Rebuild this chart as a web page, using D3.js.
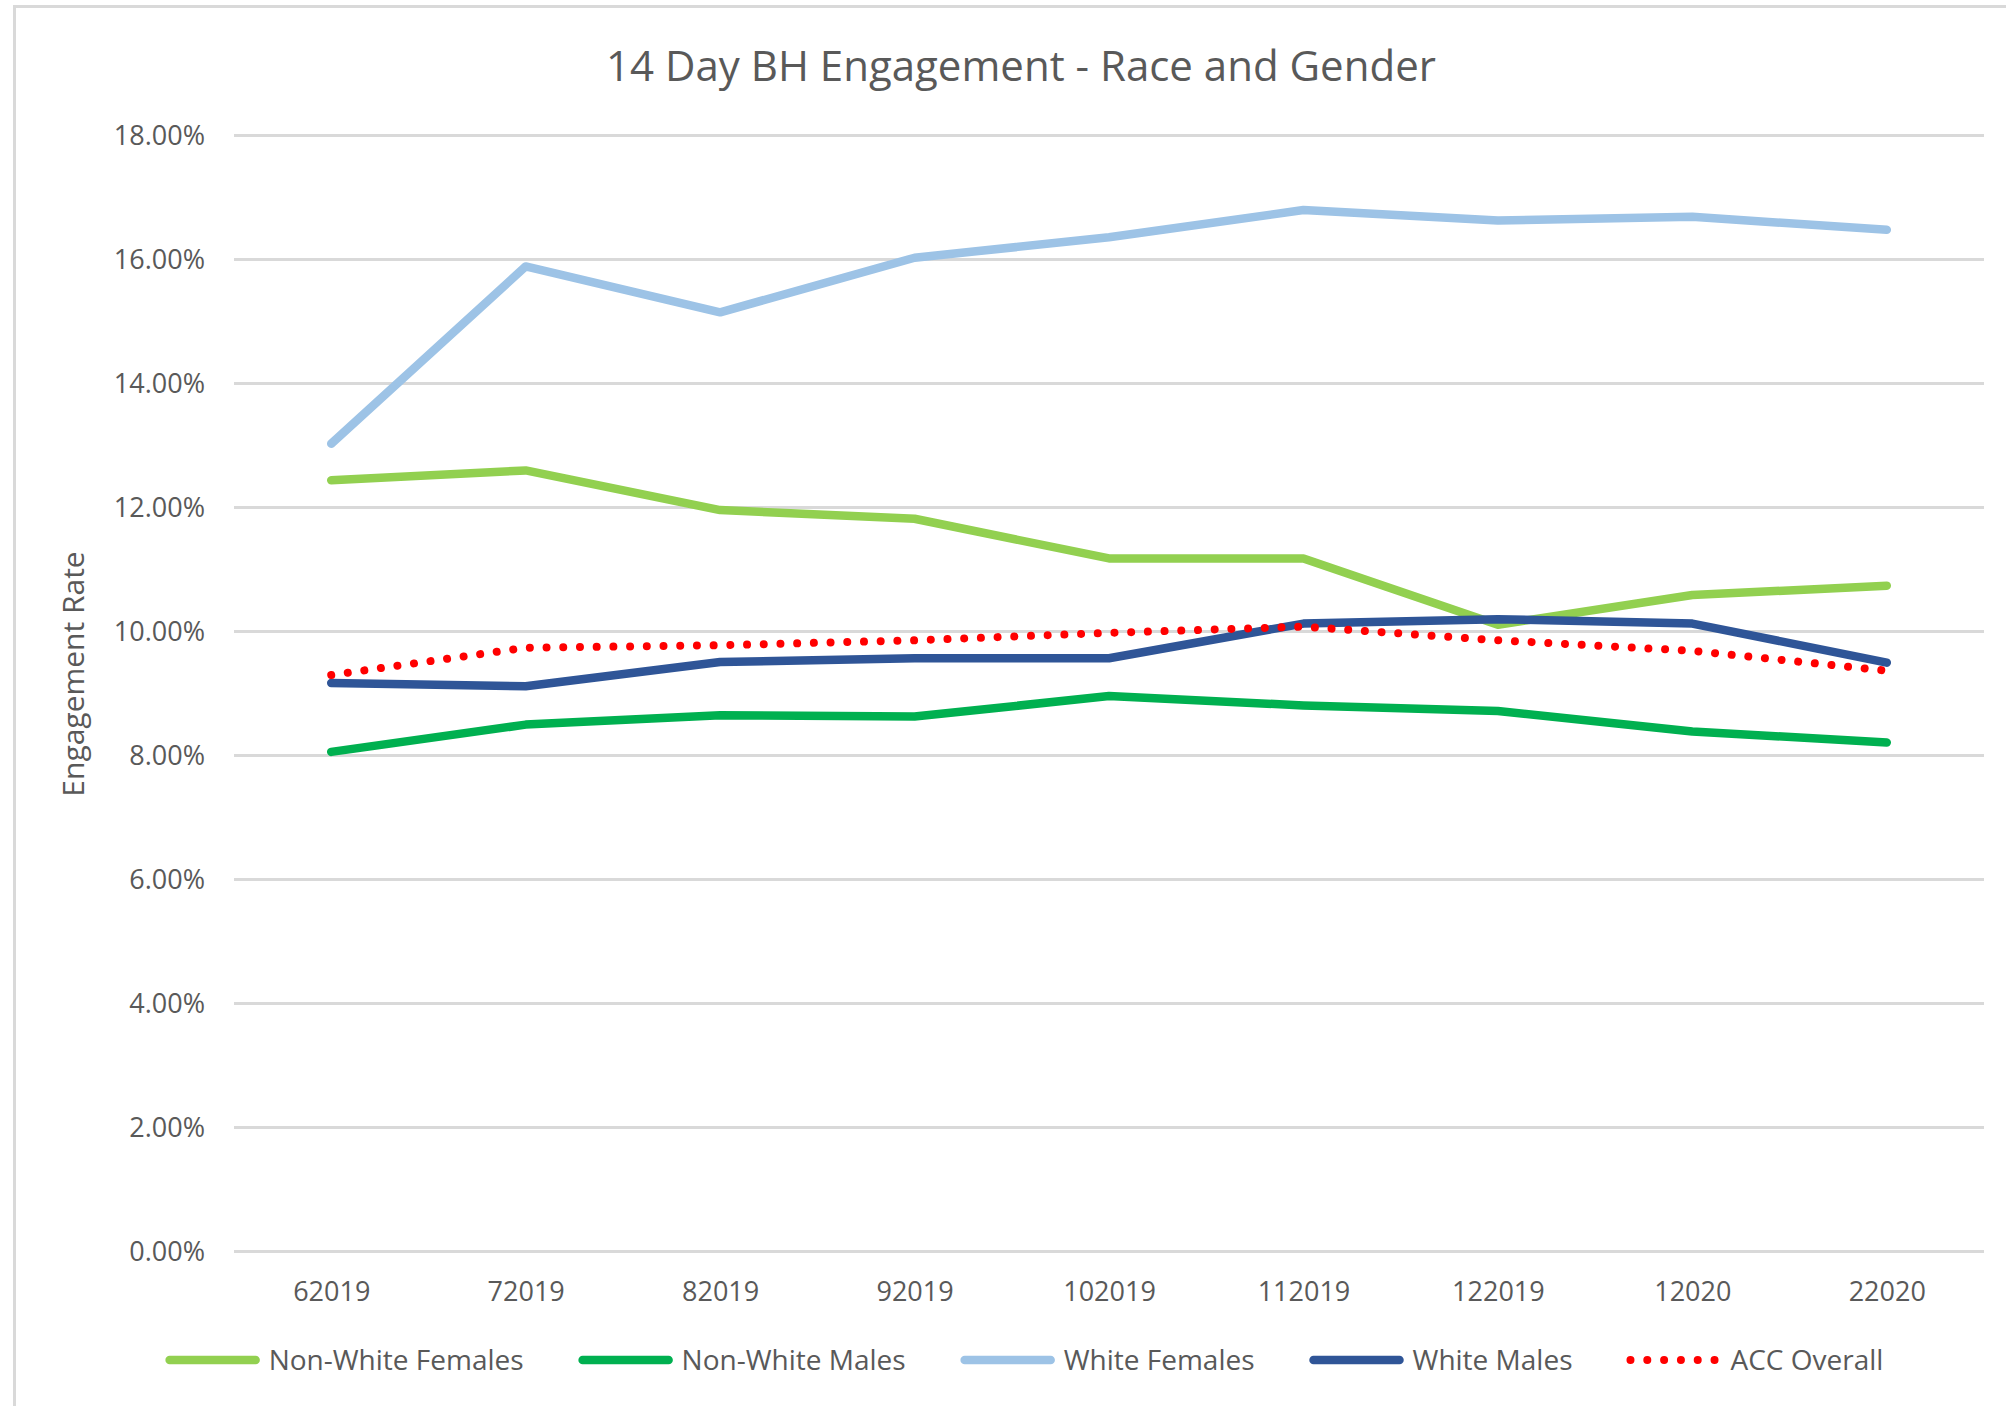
<!DOCTYPE html>
<html>
<head>
<meta charset="utf-8">
<script src="https://cdn.jsdelivr.net/npm/d3@7"></script>
<style>
  html, body { margin: 0; padding: 0; background: #fff; }
  svg { display: block; }
  text { font-family: "Open Sans", "Liberation Sans", sans-serif; fill: #595959; }
</style>
</head>
<body>
<script>
// ---- data ----
const categories = ["62019", "72019", "82019", "92019", "102019", "112019", "122019", "12020", "22020"];
const nonWhiteFemales = [12.43, 12.59, 11.95, 11.81, 11.17, 11.17, 10.10, 10.58, 10.73];
const nonWhiteMales   = [8.05, 8.49, 8.64, 8.62, 8.95, 8.80, 8.71, 8.38, 8.20];
const whiteFemales    = [13.02, 15.88, 15.14, 16.02, 16.35, 16.79, 16.62, 16.68, 16.47];
const whiteMales      = [9.16, 9.11, 9.50, 9.56, 9.56, 10.12, 10.19, 10.12, 9.49];
const accOverall      = [9.29, 9.73, 9.77, 9.85, 9.97, 10.07, 9.85, 9.68, 9.36];
const seriesNames = ["Non-White Females", "Non-White Males", "White Females", "White Males", "ACC Overall"];
const yTicks = [0, 2, 4, 6, 8, 10, 12, 14, 16, 18];
const chartTitle = "14 Day BH Engagement - Race and Gender";
const yAxisTitle = "Engagement Rate";

const seriesValues = [nonWhiteFemales, nonWhiteMales, whiteFemales, whiteMales, accOverall];
const seriesColors = ["#92D050", "#00B050", "#9DC3E6", "#2F5597", "#FF0000"];
const seriesDotted = [false, false, false, false, true];

// ---- layout ----
const W = 2006, H = 1406;
const plot = { left: 234, right: 1984, top: 135, bottom: 1251 };

const svg = d3.select("body").append("svg").attr("width", W).attr("height", H);

// chart border (extends past the frame on right/bottom like the reference)
svg.append("rect")
  .attr("x", 14.5).attr("y", 6.5).attr("width", 2100).attr("height", 1500)
  .attr("fill", "none").attr("stroke", "#D9D9D9").attr("stroke-width", 3);

const x = d3.scalePoint().domain(categories).range([plot.left, plot.right]).padding(0.5);
const y = d3.scaleLinear().domain([0, 18]).range([plot.bottom, plot.top]);

// y axis with gridlines
const yAxis = svg.append("g")
  .attr("transform", `translate(${plot.left},0)`)
  .call(d3.axisLeft(y).tickValues(yTicks)
    .tickSize(-(plot.right - plot.left))
    .tickPadding(29)
    .tickFormat(d => d3.format(".2f")(d) + "%"));
yAxis.select(".domain").remove();
yAxis.selectAll(".tick line").attr("stroke", "#D9D9D9").attr("stroke-width", 3);
yAxis.selectAll(".tick text").attr("font-size", 27).attr("fill", "#595959")
  .attr("font-family", '"Open Sans", sans-serif').attr("dy", "0.36em");

// x axis labels
const xAxis = svg.append("g")
  .attr("transform", `translate(0,${plot.bottom})`)
  .call(d3.axisBottom(x).tickSize(0).tickPadding(31));
xAxis.select(".domain").remove();
xAxis.selectAll(".tick text").attr("font-size", 27).attr("fill", "#595959")
  .attr("font-family", '"Open Sans", sans-serif');

// lines
const line = d3.line().x((d, i) => x(categories[i])).y(d => y(d));
seriesValues.forEach((vals, k) => {
  const p = svg.append("path")
    .datum(vals)
    .attr("d", line)
    .attr("fill", "none")
    .attr("stroke", seriesColors[k])
    .attr("stroke-width", seriesDotted[k] ? 8 : 8.5)
    .attr("stroke-linejoin", "round")
    .attr("stroke-linecap", "round");
  if (seriesDotted[k]) p.attr("stroke-dasharray", "0.01 16.7");
});

// title
svg.append("text")
  .attr("x", 1021).attr("y", 80.5)
  .attr("text-anchor", "middle")
  .attr("font-size", 42)
  .text(chartTitle);

// y-axis title
svg.append("text")
  .attr("transform", "translate(84,674) rotate(-90)")
  .attr("text-anchor", "middle")
  .attr("font-size", 30)
  .text(yAxisTitle);

// legend
const legend = svg.append("g");
const swatchW = 94, gapSwatch = 9, gapItem = 55, legendY = 1360;
let cursor = 0;
seriesNames.forEach((name, k) => {
  const g = legend.append("g");
  const ln = g.append("line")
    .attr("x1", cursor + 4).attr("x2", cursor + swatchW - 4)
    .attr("y1", legendY).attr("y2", legendY)
    .attr("stroke", seriesColors[k])
    .attr("stroke-width", seriesDotted[k] ? 8 : 8.5)
    .attr("stroke-linecap", "round");
  if (seriesDotted[k]) ln.attr("stroke-dasharray", "0.01 16.8").attr("x1", cursor + 3);
  const t = g.append("text")
    .attr("x", cursor + swatchW + gapSwatch)
    .attr("y", legendY + 10)
    .attr("font-size", 28)
    .text(name);
  const tw = t.node().getComputedTextLength();
  cursor += swatchW + gapSwatch + tw + gapItem;
});
const totalW = cursor - gapItem;
legend.attr("transform", `translate(${1024.5 - totalW / 2},0)`);
</script>
</body>
</html>
